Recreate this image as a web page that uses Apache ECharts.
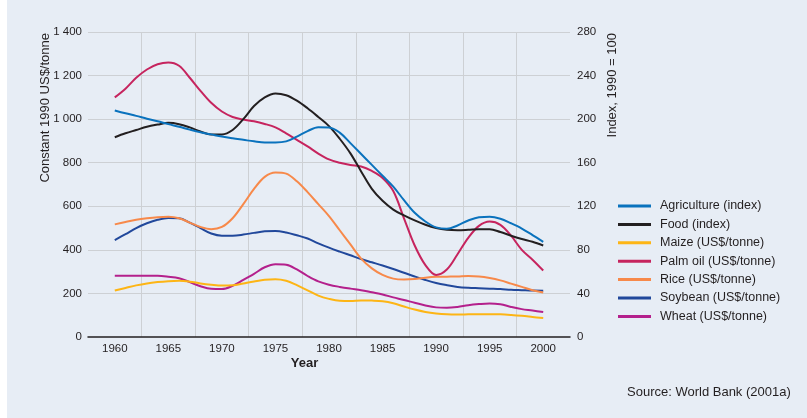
<!DOCTYPE html>
<html>
<head>
<meta charset="utf-8">
<script src="https://cdn.jsdelivr.net/npm/echarts@6/dist/echarts.min.js"></script>
<style>
html,body{margin:0;padding:0;background:#ffffff;}
#c{width:807px;height:418px;background:linear-gradient(to right,#ffffff 0,#ffffff 7px,#e7edf5 7px,#e7edf5 100%);}
</style>
</head>
<body>
<div id="c"></div>
<script>
// Years 1960..2000
const years = [];
for (let y = 1960; y <= 2000; y++) years.push(y);

// Index series (1990 = 100), right axis
const agriculture = [208,205.4,203,200.4,198,195.4,193,190.4,188,186,184,182.4,181,179.6,178.6,178.6,179.6,184,189,192.6,192.4,187.6,178,168,158,148,138,125.6,114,106,100.6,99.4,102.4,107,110,110.4,108.6,104.4,99.6,93.6,87.4];
const food = [183.4,187,190,193,195,196.6,195.4,192.4,188.6,186,186,190,200,212,220,223.6,222,217,210,202,193.6,182,168.6,152,136,125,117,111.6,107,103,100,98.4,98,98.4,99,99,96.4,93,90,87.4,84];

// Commodity prices, constant 1990 US$/tonne, left axis
const maize = [213,225,237,246,252,256,258,254,246,240,236,237,246,255,263,265,258,238,214,190,175,166,165,168,167,164,155,140,126,115,108,104,103,104,105,105,104,101,97,92,87];
const palmOil = [1100,1140,1190,1228,1252,1260,1245,1190,1130,1075,1035,1010,998,990,978,962,935,905,875,842,815,800,790,783,762,730,670,545,420,330,285,310,380,455,510,530,515,465,400,355,305];
const rice = [517,528,538,545,550,552,545,525,505,495,505,545,610,680,735,755,750,715,665,610,555,490,425,360,315,285,268,264,266,272,276,277,278,280,278,271,260,245,230,215,204];
const soybean = [445,472,500,522,538,546,545,525,500,475,465,465,470,478,485,487,480,467,452,430,410,392,375,358,343,328,312,295,278,262,248,238,230,226,224,222,220,217,215,213,212];
const wheat = [281,281,281,281,281,277,270,252,233,221,220,235,262,290,320,334,332,310,280,255,240,230,222,215,205,195,182,170,157,145,136,134,138,146,151,154,150,138,128,122,115];

const seriesNames = ['Agriculture (index)','Food (index)','Maize (US$/tonne)','Palm oil (US$/tonne)','Rice (US$/tonne)','Soybean (US$/tonne)','Wheat (US$/tonne)'];
const seriesData = [agriculture, food, maize, palmOil, rice, soybean, wheat];
const seriesAxis = [1,1,0,0,0,0,0];
const colors = ['#0a72bd','#231f20','#fdb515','#c6245e','#f7894a','#21489b','#b4208c'];

const fontMain = '"Liberation Sans", Arial, sans-serif';

function fmtThousands(v){
  if (v >= 1000) { const r = String(v % 1000).padStart(3,'0'); return Math.floor(v/1000) + ' ' + r; }
  return String(v);
}

const chart = echarts.init(document.getElementById('c'), null, {renderer:'canvas'});
const series = seriesNames.map((n,i)=>({
  name:n, type:'line', xAxisIndex:0, yAxisIndex:seriesAxis[i],
  data: years.map((y,k)=>[y, seriesData[i][k]]),
  smooth:0.35, symbol:'none', showSymbol:false,
  lineStyle:{width:2, color:colors[i]}, itemStyle:{color:colors[i]},
  z: 10 - i
}));

chart.setOption({
  backgroundColor:'transparent',
  animation:false,
  grid:{left:88, right:237, top:32, bottom:81, containLabel:false},
  legend:{
    orient:'vertical', left:618, top:199, padding:0,
    itemWidth:33, itemHeight:3, itemGap:4.4, icon:'rect',
    textStyle:{fontFamily:fontMain, fontSize:12.5, color:'#231f20', lineHeight:14, padding:[0,0,0,4]},
    data:seriesNames
  },
  xAxis:[
    {type:'value', min:1957.5, max:2002.5, interval:5, position:'bottom',
     axisLine:{show:true, lineStyle:{color:'#231f20', width:1.5}},
     axisTick:{show:false}, axisLabel:{show:false},
     splitLine:{show:true, showMinLine:false, showMaxLine:false, lineStyle:{color:'#cdd0d4', width:1}}},
    {type:'value', min:1957.5, max:2002.5, interval:2.5, position:'bottom',
     axisLine:{show:false}, axisTick:{show:false}, splitLine:{show:false},
     axisLabel:{show:true, margin:6, fontFamily:fontMain, fontSize:11.5, color:'#231f20',
       formatter:v=> (Math.abs(v%5)<1e-6 ? String(v) : '')}}
  ],
  yAxis:[
    {type:'value', min:0, max:1400, interval:200, position:'left',
     axisLine:{show:false}, axisTick:{show:false},
     axisLabel:{margin:6, fontFamily:fontMain, fontSize:11.5, color:'#231f20', formatter:fmtThousands},
     splitLine:{show:true, showMinLine:false, lineStyle:{color:'#cdd0d4', width:1}}},
    {type:'value', min:0, max:280, interval:40, position:'right',
     axisLine:{show:false}, axisTick:{show:false}, splitLine:{show:false},
     axisLabel:{margin:7, fontFamily:fontMain, fontSize:11.5, color:'#231f20'}}
  ],
  graphic:[
    {type:'text', x:45, y:33, rotation:Math.PI/2,
     style:{text:'Constant 1990 US$/tonne', fontFamily:fontMain, fontSize:13, fill:'#231f20', align:'right', verticalAlign:'middle'}},
    {type:'text', x:612, y:33, rotation:Math.PI/2,
     style:{text:'Index, 1990 = 100', fontFamily:fontMain, fontSize:13, fill:'#231f20', align:'right', verticalAlign:'middle'}},
    {type:'text', x:304.5, y:363,
     style:{text:'Year', fontFamily:fontMain, fontSize:13, fontWeight:'bold', fill:'#231f20', align:'center', verticalAlign:'middle'}},
    {type:'text', x:627, y:392,
     style:{text:'Source: World Bank (2001a)', fontFamily:fontMain, fontSize:13, fill:'#231f20', align:'left', verticalAlign:'middle'}}
  ],
  series: series
});
</script>
</body>
</html>
